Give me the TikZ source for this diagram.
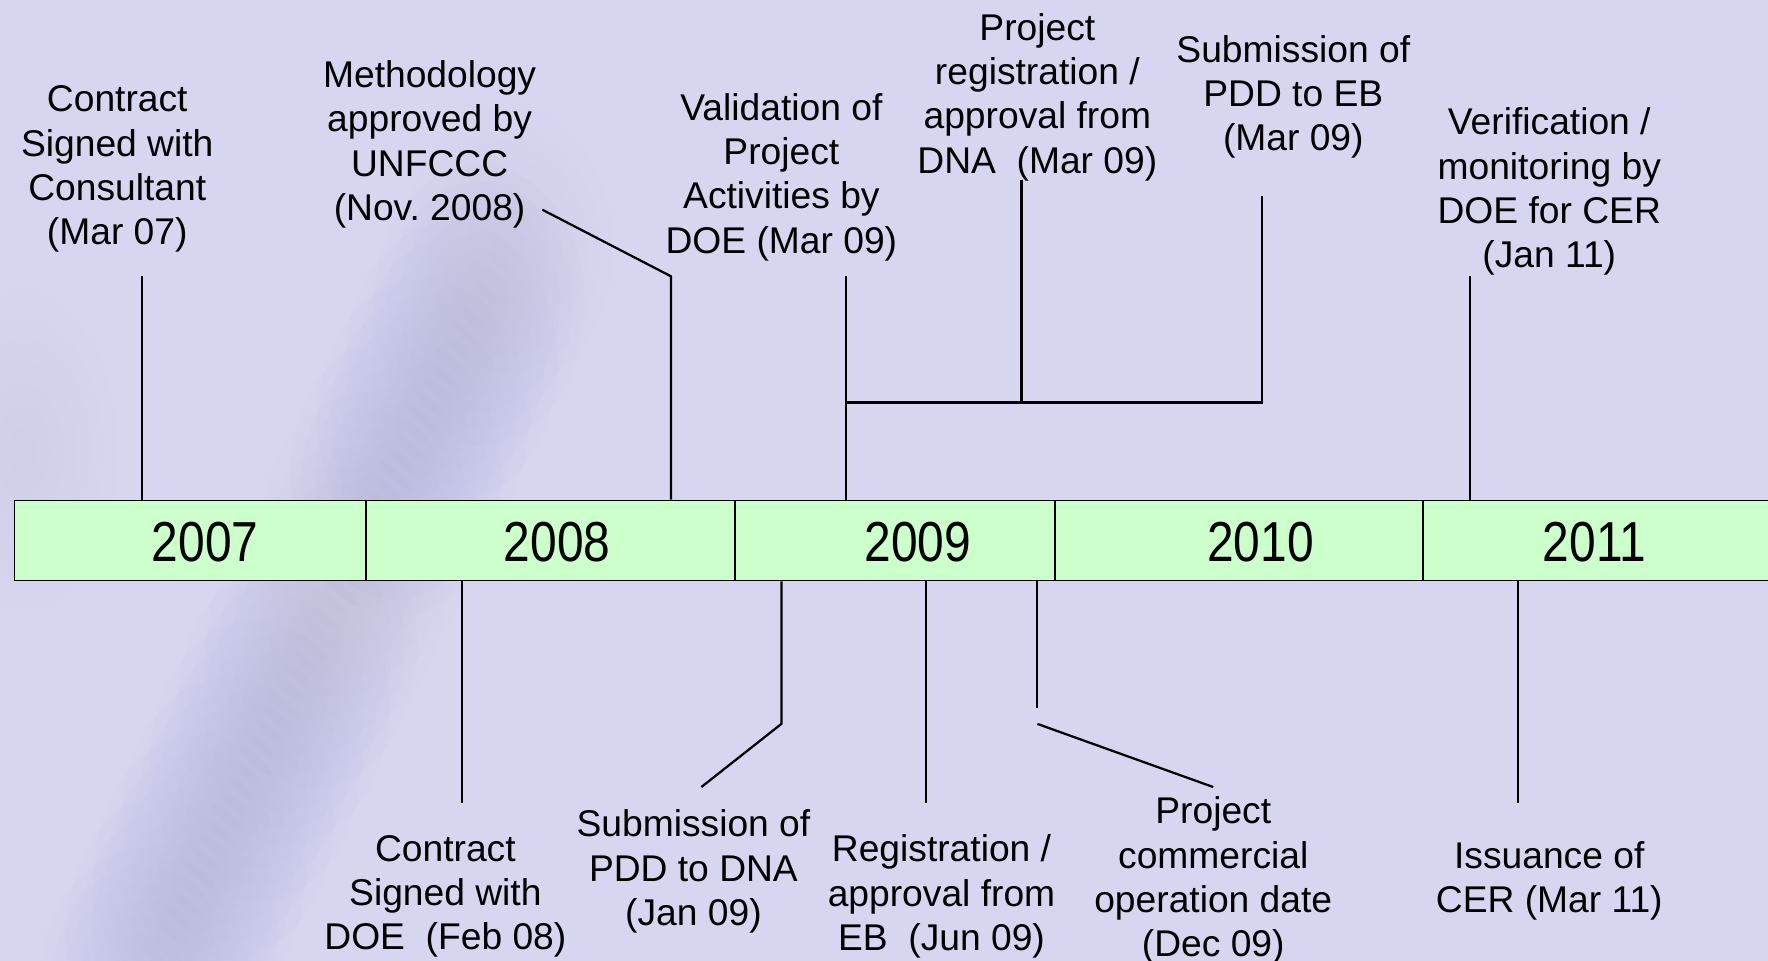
\documentclass[tikz,border=0pt]{standalone}
\usepackage{fontspec}
\setmainfont{Liberation Sans}[FakeStretch=1.0]
\newfontfamily\yearfont{Liberation Sans}[FakeStretch=0.85]
\definecolor{bgcol}{RGB}{214,214,240}
\definecolor{blobcol}{RGB}{140,140,215}
\definecolor{barfill}{RGB}{204,255,204}
\begin{document}
\begin{tikzpicture}[x=1pt,y=-1pt,
  lbl/.style={align=center,inner sep=0pt,font=\fontsize{33}{39.3}\selectfont},
  yr/.style={inner sep=0pt,font=\yearfont\fontsize{50}{60}\selectfont},
  seg/.style={draw=black,line width=1.6pt,fill=barfill,inner sep=0pt,minimum height=71pt,anchor=north west},
  conn/.style={draw=black,line width=2pt}]
\frenchspacing
\useasboundingbox (0,0) rectangle (1568,852);
\clip (0,0) rectangle (1568,852);
% background
\fill[bgcol] (0,0) rectangle (1568,852);
\foreach \t/\s in {0/0.6,0.08/0.9,0.16/1.0,0.24/1.0,0.32/0.9,0.40/0.8,0.48/0.8,0.56/0.9,0.64/1.0,0.72/1.0,0.80/1.0,0.88/1.0,0.96/1.0,1.04/1.0} {
  \foreach \r in {20,35,...,125} {
    \fill[blobcol,opacity=0.016*\s] ({450-310*\t},{220+632*\t}) ellipse ({\r*0.75} and {\r*1.0});
  }
}
\foreach \r in {20,40,...,140} {
  \fill[blobcol,opacity=0.012] (20,400) ellipse ({\r*0.6} and {\r*1.0});
}
% bar segments
\node[seg,minimum width=312pt] (s2007) at (12,443) {};
\node[seg,minimum width=327pt] (s2008) at (324,443) {};
\node[seg,minimum width=284pt] (s2009) at (651,443) {};
\node[seg,minimum width=326pt] (s2010) at (935,443) {};
\node[seg,minimum width=360pt] (s2011) at (1261,443) {};
\node[yr] (y2007) at (182,481) {2007};
\node[yr] (y2008) at (494,481) {2008};
\node[yr] (y2009) at (814,481) {2009};
\node[yr] (y2010) at (1118,481) {2010};
\node[yr] (y2011) at (1414,481) {2011};
% top labels
\node[lbl] (t1) at (104,150) {Contract\\Signed with\\Consultant\\(Mar 07)};
\node[lbl] (t2) at (381,128) {Methodology\\approved by\\UNFCCC\\(Nov. 2008)};
\node[lbl] (t3) at (693,157) {Validation of\\Project\\Activities by\\DOE (Mar 09)};
\node[lbl] (t4) at (920,86) {Project\\registration /\\approval from\\DNA\ \ (Mar 09)};
\node[lbl] (t5) at (1147,86) {Submission of\\PDD to EB\\(Mar 09)};
\node[lbl] (t6) at (1374,170) {Verification /\\monitoring by\\DOE for CER\\(Jan 11)};
% bottom labels
\node[lbl] (b1) at (395,795) {Contract\\Signed with\\DOE\ \ (Feb 08)};
\node[lbl] (b2) at (615,773) {Submission of\\PDD to DNA\\(Jan 09)};
\node[lbl] (b3) at (835,795) {Registration /\\approval from\\EB\ \ (Jun 09)};
\node[lbl] (b4) at (1076,781) {Project\\commercial\\operation date\\(Dec 09)};
\node[lbl] (b5) at (1374,781) {Issuance of\\CER (Mar 11)};
% connector end points
\coordinate (ct1) at (126,245);
\coordinate (ct2a) at (481,186);
\coordinate (ct2b) at (595,245);
\coordinate (ct3) at (750,245);
\coordinate (ct4) at (906,160);
\coordinate (ct5) at (1119,174);
\coordinate (cjoin) at (750,357);
\coordinate (ct6) at (1304,245);
\coordinate (cb1) at (410,712);
\coordinate (cb2a) at (693,642);
\coordinate (cb2b) at (622,698);
\coordinate (cb3) at (821,712);
\coordinate (cb4a) at (920,628);
\coordinate (cb4b) at (920,642);
\coordinate (cb4c) at (1076,698);
\coordinate (cb5) at (1346,712);
% top connectors
\draw[conn] (ct1) -- (ct1 |- s2007.north);
\draw[conn] (ct2a) -- (ct2b) -- (ct2b |- s2008.north);
\draw[conn] (ct3) -- (ct3 |- s2009.north);
\draw[conn] (ct4) -- (ct4 |- cjoin);
\draw[conn] (ct5) -- (ct5 |- cjoin) -- (cjoin);
\draw[conn] (ct6) -- (ct6 |- s2011.north);
% bottom connectors
\draw[conn] (cb1 |- s2008.south) -- (cb1);
\draw[conn] (cb2a |- s2009.south) -- (cb2a) -- (cb2b);
\draw[conn] (cb3 |- s2009.south) -- (cb3);
\draw[conn] (cb4a |- s2009.south) -- (cb4a);
\draw[conn] (cb4b) -- (cb4c);
\draw[conn] (cb5 |- s2011.south) -- (cb5);
\end{tikzpicture}
\end{document}
